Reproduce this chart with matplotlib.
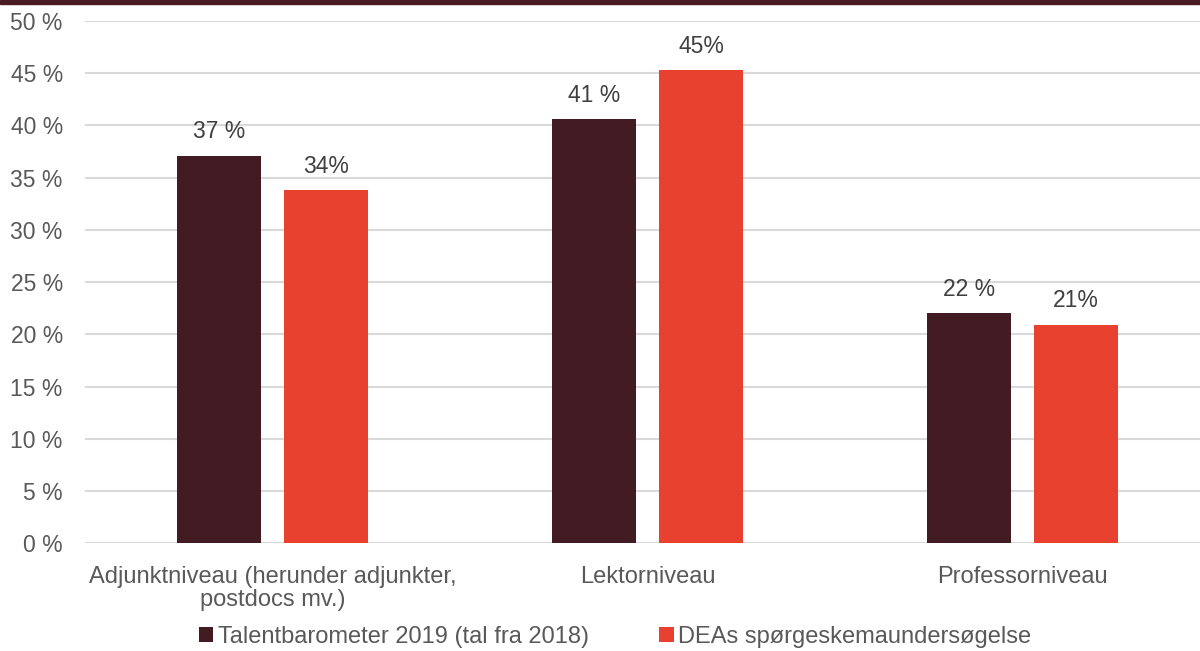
import matplotlib.pyplot as plt
import numpy as np
from matplotlib.patches import Rectangle

# data
categories = ['Adjunktniveau (herunder adjunkter,\npostdocs mv.)', 'Lektorniveau', 'Professorniveau']
talent_2019 = [37.1, 40.6, 22.0]
dea_survey = [33.8, 45.3, 20.9]
talent_labels = ['37 %', '41 %', '22 %']
dea_labels = ['34%', '45%', '21%']
series_names = ['Talentbarometer 2019 (tal fra 2018)', 'DEAs spørgeskemaundersøgelse']
yticks = [0, 5, 10, 15, 20, 25, 30, 35, 40, 45, 50]

dark = '#431B23'
red = '#E94130'
grey = '#595959'

plt.rcParams['font.family'] = ['Liberation Sans', 'DejaVu Sans']

fig = plt.figure(figsize=(12, 6.51), dpi=100)
ax = fig.add_axes([85 / 1200, (651 - 543.3) / 651, 1125 / 1200, 522.3 / 651])

# dark band across the top edge
fig.patches.append(Rectangle((0, 1 - 4 / 651), 1, 4 / 651, transform=fig.transFigure,
                             color='#4A1A22', zorder=5))

x = np.arange(len(categories))
w = 84 / 375
off = 107 / 375 / 2
b1 = ax.bar(x - off, talent_2019, w, color=dark, label=series_names[0], zorder=3)
b2 = ax.bar(x + off, dea_survey, w, color=red, label=series_names[1], zorder=3)

for bars, labs in [(b1, talent_labels), (b2, dea_labels)]:
    for bar, lab in zip(bars, labs):
        ax.annotate(lab, (bar.get_x() + bar.get_width() / 2, bar.get_height()),
                    xytext=(0, 9), textcoords='offset points', ha='center', va='bottom',
                    fontsize=16.5, color='#404040')

ax.set_xlim(-0.5, 2.5)
ax.set_ylim(0, 50)
ax.set_yticks(yticks)
ax.set_yticklabels([f'{t} %' for t in yticks])
ax.set_xticks(x)
ax.set_xticklabels(categories, ha='center', multialignment='center', linespacing=1.1)
ax.tick_params(axis='y', length=0, pad=16, labelsize=16.5, labelcolor=grey)
ax.tick_params(axis='x', length=0, pad=16, labelsize=17, labelcolor=grey)
ax.grid(axis='y', color='#D9D9D9', linewidth=1.5, zorder=0)
for s in ax.spines.values():
    s.set_visible(False)

fig.legend(loc='center', bbox_to_anchor=(615 / 1200, 1 - 637 / 651), ncol=2, frameon=False,
           fontsize=17, labelcolor=grey, handlelength=0.6, handleheight=0.6,
           handletextpad=0.2, columnspacing=3.0)

fig.savefig('out.png', dpi=100)
